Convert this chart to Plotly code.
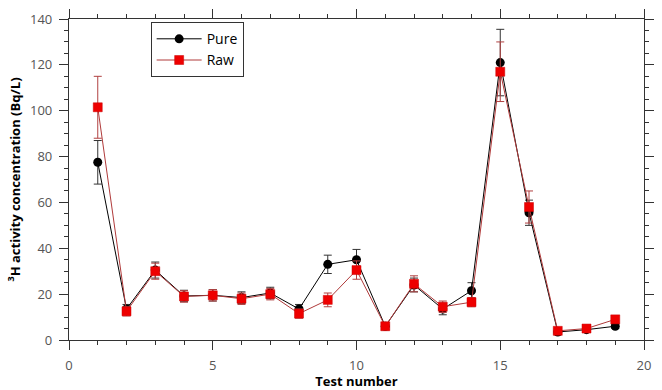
import plotly.graph_objects as go

test = list(range(1, 20))
pure = [77.5, 13.5, 30.5, 19.2, 19.5, 18.5, 20.5, 13.5, 33.0, 35.0, 6.0, 24.0, 13.5, 21.5, 121.0, 55.5, 3.5, 4.5, 6.0]
pure_err = [9.5, 2.0, 3.5, 2.5, 2.5, 2.5, 2.5, 2.0, 4.0, 4.5, 1.5, 3.0, 2.5, 3.5, 14.5, 5.5, 1.0, 1.0, 1.0]
raw = [101.5, 12.5, 30.0, 19.0, 19.5, 18.0, 20.0, 11.5, 17.5, 30.5, 6.0, 24.5, 14.5, 16.5, 117.0, 58.0, 4.0, 5.0, 9.0]
raw_err = [13.5, 2.0, 3.5, 2.5, 2.5, 2.5, 2.5, 2.0, 3.0, 4.0, 1.5, 3.5, 2.5, 2.0, 13.0, 7.0, 1.0, 1.0, 1.5]

FONT = "Open Sans, DejaVu Sans, sans-serif"

fig = go.Figure()
fig.add_trace(go.Scatter(
    x=test, y=pure, name="Pure", mode="lines+markers",
    line=dict(color="black", width=1),
    marker=dict(symbol="circle", size=9, color="black"),
    error_y=dict(type="data", array=pure_err, color="#333333", thickness=1, width=4),
))
fig.add_trace(go.Scatter(
    x=test, y=raw, name="Raw", mode="lines+markers",
    line=dict(color="#b03a3a", width=1),
    marker=dict(symbol="square", size=9, color="#ee0000", line=dict(color="#cc0000", width=0.5)),
    error_y=dict(type="data", array=raw_err, color="#b04040", thickness=1, width=4),
))

axis_common = dict(
    showline=True, linecolor="#333333", linewidth=1.2, mirror="ticks",
    ticks="outside", ticklen=9, tickcolor="#333333", tickwidth=1,
    showgrid=False, zeroline=False,
    tickfont=dict(family=FONT, size=13, color="#555555"),
)

fig.update_xaxes(
    range=[0, 20], dtick=5, tick0=0, ticklabelstandoff=4, automargin=False,
    minor=dict(dtick=1, ticks="outside", ticklen=4, tickcolor="#333333"),
    title=dict(text="<b>Test number</b>", font=dict(family=FONT, size=13, color="black")),
    **axis_common,
)
fig.update_yaxes(
    range=[0, 140], dtick=20, tick0=0, ticklabelstandoff=4, automargin=True,
    minor=dict(dtick=5, ticks="outside", ticklen=4, tickcolor="#333333"),
    title=dict(text="<b><sup>3</sup>H activity concentration (Bq/L)</b>", font=dict(family=FONT, size=13, color="black"), standoff=6),
    **axis_common,
)

fig.update_layout(
    width=662, height=390,
    margin=dict(l=69, r=8, t=19, b=50),
    plot_bgcolor="white", paper_bgcolor="white",
    legend=dict(
        x=0.142, y=0.99, xanchor="left", yanchor="top",
        bordercolor="#333333", borderwidth=1, bgcolor="white",
        font=dict(family=FONT, size=14, color="black"),
        itemwidth=45, tracegroupgap=0,
    ),
    showlegend=True,
)

fig.write_html("out.html", config={"displayModeBar": False},
               post_script="document.body.style.margin='0';")
